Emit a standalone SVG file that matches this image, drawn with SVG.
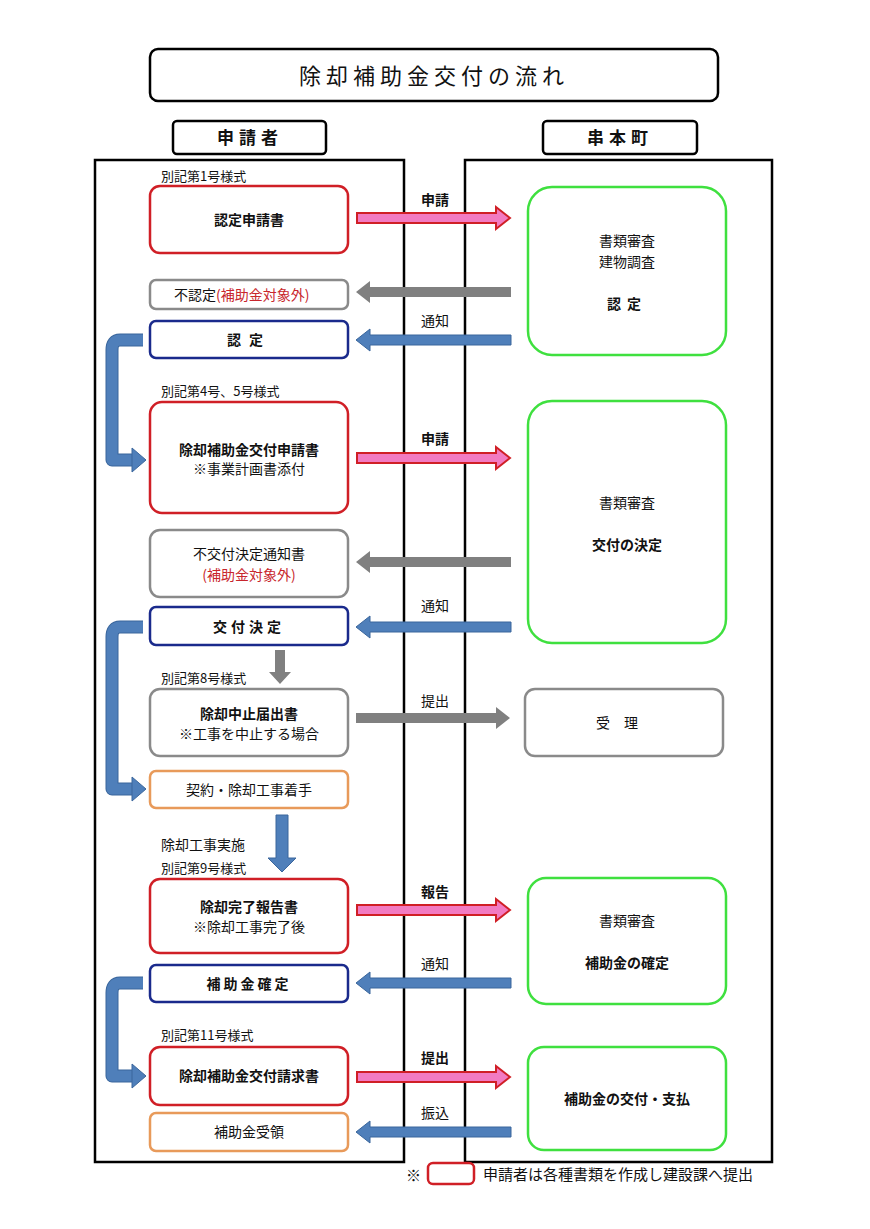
<svg xmlns="http://www.w3.org/2000/svg" width="870" height="1229" viewBox="0 0 870 1229">
<style>
text{font-family:"Noto Sans CJK JP","Noto Sans",sans-serif;fill:#111;font-size:14px}
.c{text-anchor:middle}
.b{font-weight:bold}
.r{fill:#c8262c}
.lane{fill:none;stroke:#000;stroke-width:2.5}
.hd{fill:#fff;stroke:#000;stroke-width:2.5}
.red{fill:#fff;stroke:#d01f26;stroke-width:2.5}
.gray{fill:#fff;stroke:#8a8a8a;stroke-width:2.5}
.navy{fill:#fff;stroke:#1a2a8c;stroke-width:2.5}
.org{fill:#fff;stroke:#e89a5a;stroke-width:2.5}
.grn{fill:#fff;stroke:#3fe03f;stroke-width:2.5}
.pa{fill:#f27bc2;stroke:#d01f26;stroke-width:2}
.ba{fill:#4f7fba;stroke:#3a669c;stroke-width:1}
.ga{fill:#808080}
</style>
<rect width="870" height="1229" fill="#fff"/>
<g id="title"><rect class="hd" x="150" y="49" width="568" height="52" rx="8"/><text class="c" x="434" y="84" style="font-size:22px;letter-spacing:5px">除却補助金交付の流れ</text></g>
<g id="h1"><rect class="hd" x="173" y="121" width="153" height="33" rx="4"/><text class="c b" x="250" y="144" style="font-size:17px;letter-spacing:5px">申請者</text></g>
<g id="h2"><rect class="hd" x="543" y="121" width="154" height="33" rx="4"/><text class="c b" x="620" y="144" style="font-size:17px;letter-spacing:5px">串本町</text></g>
<rect class="lane" x="95" y="160" width="309" height="1002"/>
<rect class="lane" x="465" y="160" width="307" height="1002"/>

<g id="connectors">
<polygon class="pa" points="357,213 496,213 496,207 510,218 496,229 496,223 357,223"/>
<polygon class="pa" points="357,453 496,453 496,447 510,458 496,469 496,463 357,463"/>
<polygon class="pa" points="357,905 496,905 496,899 510,910 496,921 496,915 357,915"/>
<polygon class="pa" points="357,1072 496,1072 496,1066 510,1077 496,1088 496,1082 357,1082"/>
<polygon class="ga" points="511,287 370,287 370,281 356,292 370,303 370,297 511,297"/>
<polygon class="ga" points="511,557 370,557 370,551 356,562 370,573 370,567 511,567"/>
<polygon class="ga" points="356,713 496,713 496,707 510,718 496,729 496,723 356,723"/>
<polygon class="ga" points="275,650 285,650 285,672 291,672 280,684 269,672 275,672"/>
<polygon class="ba" points="511,335 370,335 370,329 356,340 370,351 370,345 511,345"/>
<polygon class="ba" points="511,622 370,622 370,616 356,627 370,638 370,632 511,632"/>
<polygon class="ba" points="511,978 370,978 370,972 356,983 370,994 370,988 511,988"/>
<polygon class="ba" points="511,1127 370,1127 370,1121 356,1132 370,1143 370,1137 511,1137"/>
<polygon class="ba" points="276,815 288,815 288,858 296,858 282,872 268,858 276,858"/>
<g fill="none" stroke-linejoin="round">
<path d="M143,340 H120 Q112,340 112,350 V460 H134" stroke="#3a669c" stroke-width="13"/>
<path d="M143,340 H120 Q112,340 112,350 V460 H134" stroke="#4f7fba" stroke-width="11"/>
<path d="M143,627 H120 Q112,627 112,637 V789 H134" stroke="#3a669c" stroke-width="13"/>
<path d="M143,627 H120 Q112,627 112,637 V789 H134" stroke="#4f7fba" stroke-width="11"/>
<path d="M143,983 H120 Q112,983 112,993 V1076 H134" stroke="#3a669c" stroke-width="13"/>
<path d="M143,983 H120 Q112,983 112,993 V1076 H134" stroke="#4f7fba" stroke-width="11"/>
</g>
<polygon class="ba" points="132,448 146,460 132,472"/>
<polygon class="ba" points="132,777 146,789 132,801"/>
<polygon class="ba" points="132,1064 146,1076 132,1088"/>
<text class="c b" x="435" y="205">申請</text>
<text class="c" x="435" y="326">通知</text>
<text class="c b" x="435" y="444">申請</text>
<text class="c" x="435" y="611">通知</text>
<text class="c" x="435" y="706">提出</text>
<text class="c b" x="435" y="897">報告</text>
<text class="c" x="435" y="969">通知</text>
<text class="c b" x="435" y="1063">提出</text>
<text class="c" x="435" y="1118">振込</text>
</g>

<text x="161" y="181" style="font-size:13px">別記第1号様式</text>
<g id="n1"><rect class="red" x="150" y="186" width="198" height="67" rx="10"/><text class="c b" x="249" y="225">認定申請書</text></g>
<g id="n2"><rect class="gray" x="150" y="280" width="198" height="29" rx="6"/><text x="174" y="300">不認定<tspan class="r">(補助金対象外)</tspan></text></g>
<g id="n3"><rect class="navy" x="150" y="321" width="198" height="37" rx="6"/><text class="c b" x="249" y="345" style="letter-spacing:8px">認定</text></g>
<text x="161" y="396" style="font-size:13px">別記第4号、5号様式</text>
<g id="n4"><rect class="red" x="150" y="402" width="198" height="111" rx="12"/><text class="c b" x="249" y="455">除却補助金交付申請書</text><text class="c" x="249" y="474">※事業計画書添付</text></g>
<g id="n5"><rect class="gray" x="150" y="530" width="198" height="67" rx="10"/><text class="c" x="249" y="559">不交付決定通知書</text><text class="c r" x="249" y="580">(補助金対象外)</text></g>
<g id="n6"><rect class="navy" x="150" y="607" width="198" height="38" rx="6"/><text class="c b" x="249" y="632" style="letter-spacing:4px">交付決定</text></g>
<text x="161" y="683" style="font-size:13px">別記第8号様式</text>
<g id="n7"><rect class="gray" x="150" y="689" width="198" height="67" rx="10"/><text class="c b" x="249" y="719">除却中止届出書</text><text class="c" x="249" y="739">※工事を中止する場合</text></g>
<g id="n8"><rect class="org" x="150" y="771" width="198" height="37" rx="6"/><text class="c" x="249" y="795">契約・除却工事着手</text></g>
<text x="161" y="850" style="font-size:14px">除却工事実施</text>
<text x="161" y="873" style="font-size:13px">別記第9号様式</text>
<g id="n9"><rect class="red" x="150" y="879" width="198" height="74" rx="10"/><text class="c b" x="249" y="912">除却完了報告書</text><text class="c" x="249" y="932">※除却工事完了後</text></g>
<g id="n10"><rect class="navy" x="150" y="965" width="198" height="37" rx="6"/><text class="c b" x="249" y="989" style="letter-spacing:3px">補助金確定</text></g>
<text x="161" y="1040" style="font-size:13px">別記第11号様式</text>
<g id="n11"><rect class="red" x="150" y="1047" width="198" height="58" rx="10"/><text class="c b" x="249" y="1081">除却補助金交付請求書</text></g>
<g id="n12"><rect class="org" x="150" y="1113" width="198" height="38" rx="6"/><text class="c" x="249" y="1137">補助金受領</text></g>

<g id="r1"><rect class="grn" x="528" y="187" width="198" height="168" rx="24"/><text class="c" x="627" y="246">書類審査</text><text class="c" x="627" y="267">建物調査</text><text class="c b" x="627" y="309" style="letter-spacing:6px">認定</text></g>
<g id="r2"><rect class="grn" x="528" y="401" width="198" height="242" rx="24"/><text class="c" x="627" y="508">書類審査</text><text class="c b" x="627" y="550">交付の決定</text></g>
<g id="r3"><rect class="gray" x="525" y="689" width="198" height="67" rx="10"/><text class="c" x="624" y="728" style="letter-spacing:14px">受理</text></g>
<g id="r4"><rect class="grn" x="528" y="878" width="198" height="126" rx="18"/><text class="c" x="627" y="926">書類審査</text><text class="c b" x="627" y="968">補助金の確定</text></g>
<g id="r5"><rect class="grn" x="528" y="1047" width="198" height="103" rx="16"/><text class="c b" x="627" y="1104">補助金の交付・支払</text></g>

<g id="legend"><text x="406" y="1181" style="font-size:15px">※</text><rect x="428" y="1163" width="46" height="21" rx="5" fill="#fff" stroke="#d01f26" stroke-width="2.5"/><text x="483" y="1180" style="font-size:15px">申請者は各種書類を作成し建設課へ提出</text></g>
</svg>
